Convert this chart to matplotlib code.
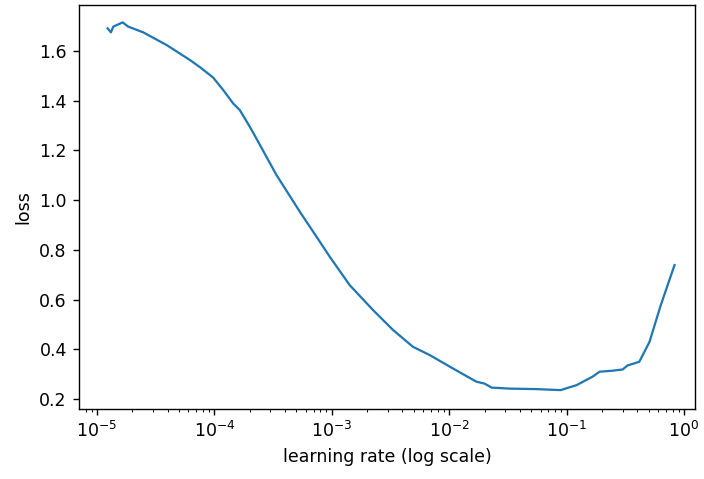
import matplotlib
matplotlib.use("Agg")
import matplotlib.pyplot as plt

# Learning-rate range test: loss recorded at each learning rate
learning_rates = [
    1.233e-5, 1.315e-5, 1.377e-5, 1.656e-5, 1.845e-5, 2.477e-5, 3.917e-5,
    6.18e-5, 7.53e-5, 9.77e-5, 1.189e-4, 1.445e-4, 1.648e-4, 2.004e-4,
    2.213e-4, 3.38e-4, 5.35e-4, 7.41e-4, 9.62e-4, 1.422e-3, 2.245e-3,
    3.32e-3, 4.92e-3, 6.82e-3, 1.076e-2, 1.702e-2, 2.004e-2, 2.30e-2,
    3.27e-2, 5.52e-2, 8.89e-2, 0.1216, 0.1663, 0.191, 0.246, 0.300,
    0.330, 0.416, 0.508, 0.631, 0.830,
]
losses = [
    1.691, 1.675, 1.698, 1.715, 1.698, 1.675, 1.624,
    1.564, 1.535, 1.493, 1.443, 1.389, 1.362, 1.295,
    1.259, 1.101, 0.953, 0.853, 0.772, 0.658, 0.558,
    0.478, 0.410, 0.377, 0.323, 0.270, 0.262, 0.246,
    0.242, 0.240, 0.236, 0.256, 0.290, 0.310, 0.314, 0.319,
    0.335, 0.350, 0.430, 0.575, 0.739,
]

fig = plt.figure(figsize=(704 / 125, 479 / 125), dpi=125)
ax = fig.add_axes([79 / 704, 70 / 479, 616 / 704, 404 / 479])
ax.plot(learning_rates, losses, color="#1f77b4", linewidth=1.3)
ax.set_xscale("log")
ax.set_xlim(7.03e-6, 1.24)
ax.set_ylim(0.16, 1.785)
ax.set_yticks([0.2, 0.4, 0.6, 0.8, 1.0, 1.2, 1.4, 1.6])
ax.set_xlabel("learning rate (log scale)")
ax.set_ylabel("loss")

fig.savefig("out.png", dpi=125)
